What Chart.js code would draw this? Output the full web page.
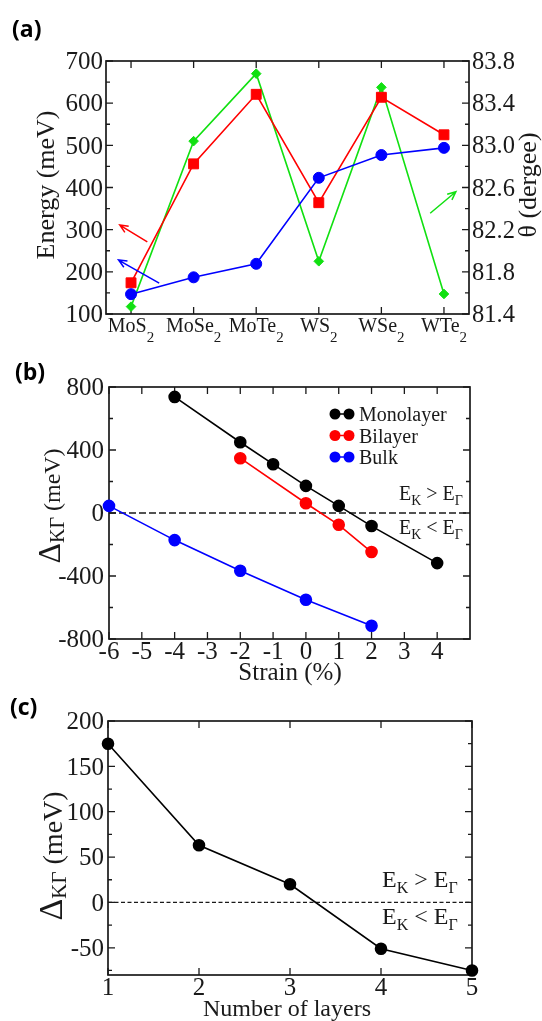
<!DOCTYPE html>
<html>
<head>
<meta charset="utf-8">
<script src="https://cdn.jsdelivr.net/npm/chart.js@4.4.0/dist/chart.umd.min.js"></script>
<style>
  html, body { margin: 0; padding: 0; background: #fff; }
  #wrap { position: relative; width: 542px; height: 1021px; overflow: hidden; }
  canvas { position: absolute; left: 0; }
</style>
</head>
<body>
<div id="wrap">
  <canvas id="chartA" width="542" height="345" style="top:0"></canvas>
  <canvas id="chartB" width="542" height="345" style="top:345px"></canvas>
  <canvas id="chartC" width="542" height="331" style="top:690px"></canvas>
</div>
<script>
// — (a) energies / angle per compound —
const compounds   = ['MoS2', 'MoSe2', 'MoTe2', 'WS2', 'WSe2', 'WTe2'];
const energyRed   = [174, 456, 621, 364, 614, 525];
const energyBlue  = [147, 187, 219, 423, 477, 494];
const thetaGreen  = [81.47, 83.04, 83.68, 81.90, 83.55, 81.59];
const energyTicks = [100, 200, 300, 400, 500, 600, 700];
const energyMinor = [150, 250, 350, 450, 550, 650];
const thetaTicks  = [81.4, 81.8, 82.2, 82.6, 83.0, 83.4, 83.8];

// — (b) Δ_KΓ vs strain —
const strainTicks = [-6, -5, -4, -3, -2, -1, 0, 1, 2, 3, 4];
const deltaTicks  = [-800, -400, 0, 400, 800];
const deltaMinor  = [-600, -200, 200, 600];
const strainMono  = [-4, -2, -1, 0, 1, 2, 4];
const deltaMono   = [737, 449, 310, 172, 45, -83, -318];
const strainBi    = [-2, 0, 1, 2];
const deltaBi     = [348, 62, -75, -248];
const strainBulk  = [-6, -4, -2, 0, 2];
const deltaBulk   = [45, -172, -367, -551, -716];

// — (c) Δ_KΓ vs number of layers —
const layers      = [1, 2, 3, 4, 5];
const deltaLayers = [175, 63, 20, -51, -75];
const layerTicksY = [-50, 0, 50, 100, 150, 200];
const layerMinorY = [-75, -25, 25, 75, 125, 175];

const SERIF = '"Liberation Serif", serif';
const INK = '#1a1a1a';

function part(text, size, dy) {
  return { text, font: size + 'px ' + SERIF, dy: dy || 0 };
}

// draw a run of differently sized pieces (used for subscripts)
function drawRich(ctx, parts, x, y, align) {
  let w = 0;
  parts.forEach(p => { ctx.font = p.font; p.w = ctx.measureText(p.text).width; w += p.w; });
  let cx = align === 'center' ? x - w / 2 : align === 'right' ? x - w : x;
  ctx.textAlign = 'left';
  ctx.textBaseline = 'alphabetic';
  ctx.fillStyle = INK;
  parts.forEach(p => { ctx.font = p.font; ctx.fillText(p.text, cx, y + p.dy); cx += p.w; });
}

function drawRotated(ctx, parts, bx, cy) {
  ctx.save();
  ctx.translate(bx, cy);
  ctx.rotate(-Math.PI / 2);
  drawRich(ctx, parts, 0, 0, 'center');
  ctx.restore();
}

function drawArrow(ctx, x0, y0, x1, y1, color) {
  const ang = Math.atan2(y1 - y0, x1 - x0), h = 9;
  ctx.strokeStyle = color;
  ctx.lineWidth = 1.5;
  ctx.beginPath();
  ctx.moveTo(x0, y0); ctx.lineTo(x1, y1);
  ctx.moveTo(x1 - h * Math.cos(ang - 0.42), y1 - h * Math.sin(ang - 0.42));
  ctx.lineTo(x1, y1);
  ctx.lineTo(x1 - h * Math.cos(ang + 0.42), y1 - h * Math.sin(ang + 0.42));
  ctx.stroke();
}

function ekNotes(size, sub, dy) {
  return [
    [part('E', size), part('K', sub, dy), part(' > E', size), part('Γ', sub, dy)],
    [part('E', size), part('K', sub, dy), part(' < E', size), part('Γ', sub, dy)]
  ];
}

// tick labels from the scale's own ticks
function axisLabels(ctx, scale, a, spec) {
  scale.ticks.forEach(t => {
    const p = scale.getPixelForValue(t.value);
    const txt = [part(spec.fmt(t.value), spec.size)];
    if (spec.side === 'left') drawRich(ctx, txt, a.left - spec.pad, p + spec.size * 0.33, 'right');
    else if (spec.side === 'right') drawRich(ctx, txt, a.right + spec.pad, p + spec.size * 0.33, 'left');
    else drawRich(ctx, txt, p, a.bottom + spec.pad, 'center');
  });
}

/**
 * Frame, inward ticks, dashed zero line, tick labels, titles and notes.
 */
function decor(cfg) {
  return {
    id: 'decor' + cfg.name,
    beforeDatasetsDraw(chart) {
      const { ctx, chartArea: a } = chart;
      const xs = chart.scales.x, ys = chart.scales.y;
      ctx.save();
      if (cfg.zero) {
        const py = ys.getPixelForValue(0);
        ctx.strokeStyle = INK;
        ctx.lineWidth = cfg.zero.width;
        ctx.setLineDash(cfg.zero.dash);
        ctx.beginPath(); ctx.moveTo(a.left, py); ctx.lineTo(a.right, py); ctx.stroke();
        ctx.setLineDash([]);
      }
      ctx.strokeStyle = INK;
      ctx.lineWidth = 1.3;
      ctx.beginPath();
      const vt = (vals, len) => vals.forEach(v => {
        const p = xs.getPixelForValue(v);
        ctx.moveTo(p, a.bottom); ctx.lineTo(p, a.bottom - len);
        ctx.moveTo(p, a.top); ctx.lineTo(p, a.top + len);
      });
      const ht = (vals, len) => vals.forEach(v => {
        const p = ys.getPixelForValue(v);
        ctx.moveTo(a.left, p); ctx.lineTo(a.left + len, p);
        ctx.moveTo(a.right, p); ctx.lineTo(a.right - len, p);
      });
      vt(cfg.xMajor, 7); vt(cfg.xMinor || [], 4);
      ht(cfg.yMajor, 7); ht(cfg.yMinor || [], 4);
      ctx.stroke();
      ctx.lineWidth = 1.7;
      ctx.strokeRect(a.left, a.top, a.right - a.left, a.bottom - a.top);
      ctx.restore();
    },
    afterDraw(chart) {
      const { ctx, chartArea: a } = chart;
      const xs = chart.scales.x, ys = chart.scales.y;
      ctx.save();
      // panel letter
      ctx.font = 'bold 23px "Open Sans", sans-serif';
      ctx.fillStyle = '#000';
      ctx.textAlign = 'left';
      ctx.textBaseline = 'alphabetic';
      ctx.fillText(cfg.letter[0], cfg.letter[1], cfg.letter[2]);
      // numeric tick labels
      (cfg.labels || []).forEach(spec => axisLabels(ctx, chart.scales[spec.id], a, spec));
      // axis titles
      (cfg.rotTitles || []).forEach(t => drawRotated(ctx, t.parts, t.bx, t.cy));
      if (cfg.xTitle) drawRich(ctx, cfg.xTitle.parts, cfg.xTitle.x, cfg.xTitle.y, 'center');
      // category labels with subscripts
      if (cfg.catLabels) {
        cfg.catLabels.forEach((name, i) => {
          const px = xs.getPixelForValue(i);
          drawRich(ctx, [part(name.slice(0, -1), 20), part(name.slice(-1), 15, 10)], px, a.bottom + 18, 'center');
        });
      }
      // E_K vs E_Γ notes either side of zero
      if (cfg.notes) {
        const py = ys.getPixelForValue(0);
        drawRich(ctx, cfg.notes.lines[0], a.right - cfg.notes.dx, py - cfg.notes.up, 'left');
        drawRich(ctx, cfg.notes.lines[1], a.right - cfg.notes.dx, py + cfg.notes.down, 'left');
      }
      // arrows pointing to the axis each series belongs to
      (cfg.arrows || []).forEach(ar => {
        drawArrow(ctx, xs.getPixelForValue(ar.from[0]), ys.getPixelForValue(ar.from[1]),
          xs.getPixelForValue(ar.to[0]), ys.getPixelForValue(ar.to[1]), ar.color);
      });
      // legend: two dots joined by a line
      if (cfg.legend) {
        const L = cfg.legend;
        chart.data.datasets.forEach((ds, i) => {
          const yc = L.y + i * L.dy;
          ctx.strokeStyle = ds.borderColor; ctx.fillStyle = ds.borderColor; ctx.lineWidth = 1.5;
          ctx.beginPath(); ctx.moveTo(L.x1, yc); ctx.lineTo(L.x2, yc); ctx.stroke();
          [L.x1, L.x2].forEach(x => { ctx.beginPath(); ctx.arc(x, yc, 5.5, 0, Math.PI * 2); ctx.fill(); });
          drawRich(ctx, [part(ds.label, 20)], L.tx, yc + 7, 'left');
        });
      }
      ctx.restore();
    }
  };
}

function fixedTicks(list) {
  return s => { s.ticks = list.map(v => ({ value: v })); };
}
function fixW(w) {
  return s => { s.width = w; s.paddingTop = 0; s.paddingBottom = 0; };
}
function fixH(h) {
  return s => { s.height = h; s.paddingLeft = 0; s.paddingRight = 0; };
}
const noGrid = { display: false, drawTicks: false };
const noBorder = { display: false };
const hidden = { display: false };
const num = v => String(v);

const common = {
  responsive: false,
  animation: false,
  events: [],
  devicePixelRatio: 1,
  plugins: { legend: { display: false }, tooltip: { enabled: false } }
};

function series(xs, ys) { return xs.map((x, i) => ({ x, y: ys[i] })); }
const idx = compounds.map((_, i) => i);

// — (a) —
new Chart(document.getElementById('chartA'), {
  type: 'line',
  data: {
    datasets: [
      { label: 'Energy (blue)', data: series(idx, energyBlue), yAxisID: 'y',
        borderColor: '#0000ff', backgroundColor: '#0000ff', pointStyle: 'circle', pointRadius: 5.5 },
      { label: 'Energy (red)', data: series(idx, energyRed), yAxisID: 'y',
        borderColor: '#ff0000', backgroundColor: '#ff0000', pointStyle: 'rect', pointRadius: 7 },
      { label: 'θ', data: series(idx, thetaGreen), yAxisID: 'y2',
        borderColor: '#11e011', backgroundColor: '#11e011', pointStyle: 'rectRot', pointRadius: 4.8 }
    ].map(d => Object.assign(d, { borderWidth: 1.6, tension: 0, fill: false, clip: false, pointBorderWidth: 1 }))
  },
  options: Object.assign({}, common, {
    layout: { padding: { top: 61, left: 0, right: 0, bottom: 0 } },
    scales: {
      x: { type: 'linear', min: -0.4, max: 5.4, grid: noGrid, border: noBorder,
        ticks: hidden, afterFit: fixH(31) },
      y: { position: 'left', min: 100, max: 700, grid: noGrid, border: noBorder, ticks: hidden,
        afterBuildTicks: fixedTicks(energyTicks), afterFit: fixW(106) },
      y2: { position: 'right', min: 81.4, max: 83.8, grid: noGrid, border: noBorder, ticks: hidden,
        afterBuildTicks: fixedTicks(thetaTicks), afterFit: fixW(73) }
    }
  }),
  plugins: [decor({
    name: 'A', letter: ['(a)', 12, 37],
    xMajor: idx, yMajor: energyTicks, yMinor: energyMinor,
    labels: [
      { id: 'y', side: 'left', size: 25, pad: 3, fmt: num },
      { id: 'y2', side: 'right', size: 24.5, pad: 3, fmt: v => v.toFixed(1) }
    ],
    catLabels: compounds,
    rotTitles: [
      { parts: [part('Energy (meV)', 26)], bx: 54, cy: 185 },
      { parts: [part('θ (dergee)', 26)], bx: 536, cy: 185 }
    ],
    arrows: [
      { color: '#ff0000', from: [0.26, 271], to: [-0.18, 311] },
      { color: '#0000ff', from: [0.45, 173], to: [-0.20, 228] },
      { color: '#11e011', from: [4.78, 339], to: [5.19, 390] }
    ]
  })]
});

// — (b) —
new Chart(document.getElementById('chartB'), {
  type: 'line',
  data: {
    datasets: [
      { label: 'Monolayer', data: series(strainMono, deltaMono), borderColor: '#000000', backgroundColor: '#000000' },
      { label: 'Bilayer', data: series(strainBi, deltaBi), borderColor: '#ff0000', backgroundColor: '#ff0000' },
      { label: 'Bulk', data: series(strainBulk, deltaBulk), borderColor: '#0000ff', backgroundColor: '#0000ff' }
    ].map(d => Object.assign(d, { borderWidth: 1.6, tension: 0, fill: false, clip: false, pointRadius: 5.5 }))
  },
  options: Object.assign({}, common, {
    layout: { padding: { top: 42, left: 0, right: 72, bottom: 0 } },
    scales: {
      x: { type: 'linear', min: -6, max: 5, grid: noGrid, border: noBorder, ticks: hidden,
        afterBuildTicks: fixedTicks(strainTicks), afterFit: fixH(51) },
      y: { min: -800, max: 800, grid: noGrid, border: noBorder, ticks: hidden,
        afterBuildTicks: fixedTicks(deltaTicks), afterFit: fixW(109) }
    }
  }),
  plugins: [decor({
    name: 'B', letter: ['(b)', 15, 35],
    xMajor: strainTicks, yMajor: deltaTicks, yMinor: deltaMinor,
    labels: [
      { id: 'x', side: 'bottom', size: 25, pad: 20, fmt: num },
      { id: 'y', side: 'left', size: 25, pad: 5, fmt: num }
    ],
    zero: { width: 1.5, dash: [7, 3] },
    rotTitles: [{ parts: [part('Δ', 32), part('KΓ', 20, 4), part(' (meV)', 24)], bx: 60, cy: 161 }],
    xTitle: { parts: [part('Strain (%)', 25)], x: 290, y: 335 },
    notes: { lines: ekNotes(20, 14, 5), dx: 71, up: 13, down: 21 },
    legend: { x1: 335, x2: 349, tx: 359, y: 69, dy: 21.5 }
  })]
});

// — (c) —
new Chart(document.getElementById('chartC'), {
  type: 'line',
  data: {
    datasets: [
      { label: 'Δ_KΓ', data: series(layers, deltaLayers), borderColor: '#000000', backgroundColor: '#000000',
        borderWidth: 1.6, tension: 0, fill: false, clip: false, pointRadius: 5.5 }
    ]
  },
  options: Object.assign({}, common, {
    layout: { padding: { top: 31, left: 0, right: 70, bottom: 0 } },
    scales: {
      x: { type: 'linear', min: 1, max: 5, grid: noGrid, border: noBorder, ticks: hidden,
        afterBuildTicks: fixedTicks(layers), afterFit: fixH(46) },
      y: { min: -80, max: 200, grid: noGrid, border: noBorder, ticks: hidden,
        afterBuildTicks: fixedTicks(layerTicksY), afterFit: fixW(108) }
    }
  }),
  plugins: [decor({
    name: 'C', letter: ['(c)', 10, 25],
    xMajor: layers, yMajor: layerTicksY, yMinor: layerMinorY,
    labels: [
      { id: 'x', side: 'bottom', size: 25, pad: 20, fmt: num },
      { id: 'y', side: 'left', size: 25, pad: 4, fmt: num }
    ],
    zero: { width: 1.2, dash: [4, 2.5] },
    rotTitles: [{ parts: [part('Δ', 34), part('KΓ', 21, 4), part(' (meV)', 28)], bx: 62, cy: 166 }],
    xTitle: { parts: [part('Number of layers', 24)], x: 287, y: 326 },
    notes: { lines: ekNotes(24, 16, 6), dx: 90, up: 15, down: 22 }
  })]
});
</script>
</body>
</html>
